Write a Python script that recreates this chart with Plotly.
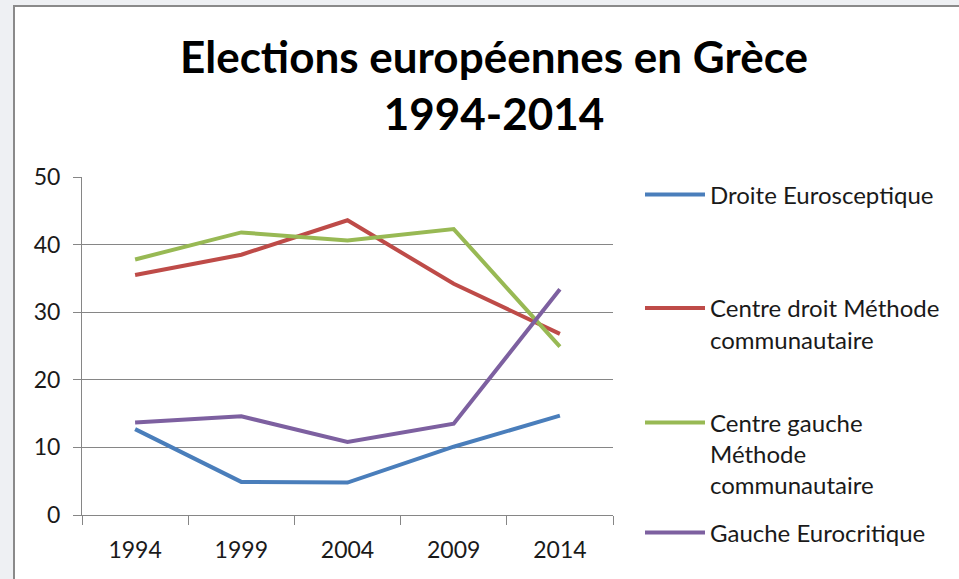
import plotly.graph_objects as go

years = ["1994", "1999", "2004", "2009", "2014"]
droite_euroscept = [12.7, 4.9, 4.8, 10.1, 14.7]
centre_droit = [35.5, 38.5, 43.6, 34.2, 26.8]
centre_gauche = [37.8, 41.8, 40.6, 42.3, 24.9]
gauche_eurocrit = [13.7, 14.6, 10.8, 13.5, 33.4]

names = ["Droite Eurosceptique",
         "Centre droit Méthode<br>communautaire",
         "Centre gauche<br>Méthode<br>communautaire",
         "Gauche Eurocritique"]
colors = ["#4A7EBB", "#BE4B48", "#98B954", "#7D60A0"]
series = [droite_euroscept, centre_droit, centre_gauche, gauche_eurocrit]
legend_ids = ["legend", "legend2", "legend3", "legend4"]

W, H = 959, 579
L, R, T, B = 82, 613, 177, 515  # plot area in pixels
FONT = "Lato"

fig = go.Figure()
for nm, col, ys, lg in zip(names, colors, series, legend_ids):
    fig.add_trace(go.Scatter(x=years, y=ys, mode="lines", name=nm,
                             line=dict(color=col, width=4), legend=lg))

def px_x(p):
    return (p - L) / (R - L)

def px_y(p):
    return (B - p) / (B - T)

legend_centers = [195, 324, 454, 533]
leg_common = dict(xref="container", yref="container", xanchor="left",
                  yanchor="middle", bgcolor="rgba(0,0,0,0)",
                  font=dict(family=FONT, size=24, color="#1a1a1a"),
                  itemwidth=60, valign="top")
layout_legends = {}
for lg, cy in zip(legend_ids, legend_centers):
    layout_legends[lg] = dict(x=640 / W, y=1 - cy / H, **leg_common)

fig.update_layout(
    width=W, height=H,
    margin=dict(l=L, r=W - R, t=T, b=H - B),
    paper_bgcolor="#eef0f3",
    plot_bgcolor="rgba(0,0,0,0)",
    showlegend=True,
    title=dict(text="<b>Elections européennes en Grèce<br>1994-2014</b>",
               x=494 / W, xanchor="center", xref="container",
               y=1 - 73 / H, yanchor="top", yref="container",
               font=dict(family=FONT, size=44, color="#000000")),
    xaxis=dict(type="category", tickson="boundaries", showgrid=False,
               showline=True, linecolor="#868686", linewidth=1,
               ticks="outside", ticklen=9, tickcolor="#868686",
               tickfont=dict(family=FONT, size=23, color="#1a1a1a"),
               range=[-0.5, 4.5], fixedrange=True, ticklabelstandoff=14),
    yaxis=dict(range=[0, 50], dtick=10, showgrid=True, gridcolor="#868686",
               gridwidth=1, showline=True, linecolor="#868686", linewidth=1,
               ticks="outside", ticklen=8, tickcolor="#868686", zeroline=False,
               tickfont=dict(family=FONT, size=23, color="#1a1a1a"),
               ticklabelstandoff=8, fixedrange=True),
    shapes=[dict(type="rect", xref="paper", yref="paper", layer="below",
                 x0=px_x(14), x1=px_x(975), y0=px_y(600), y1=px_y(6),
                 fillcolor="white", line=dict(color="#8a8a8a", width=2))],
    **layout_legends,
)

fig.write_html("out.html", config={"displayModeBar": False},
               post_script="document.body.style.margin='0';document.body.style.overflow='hidden';")
